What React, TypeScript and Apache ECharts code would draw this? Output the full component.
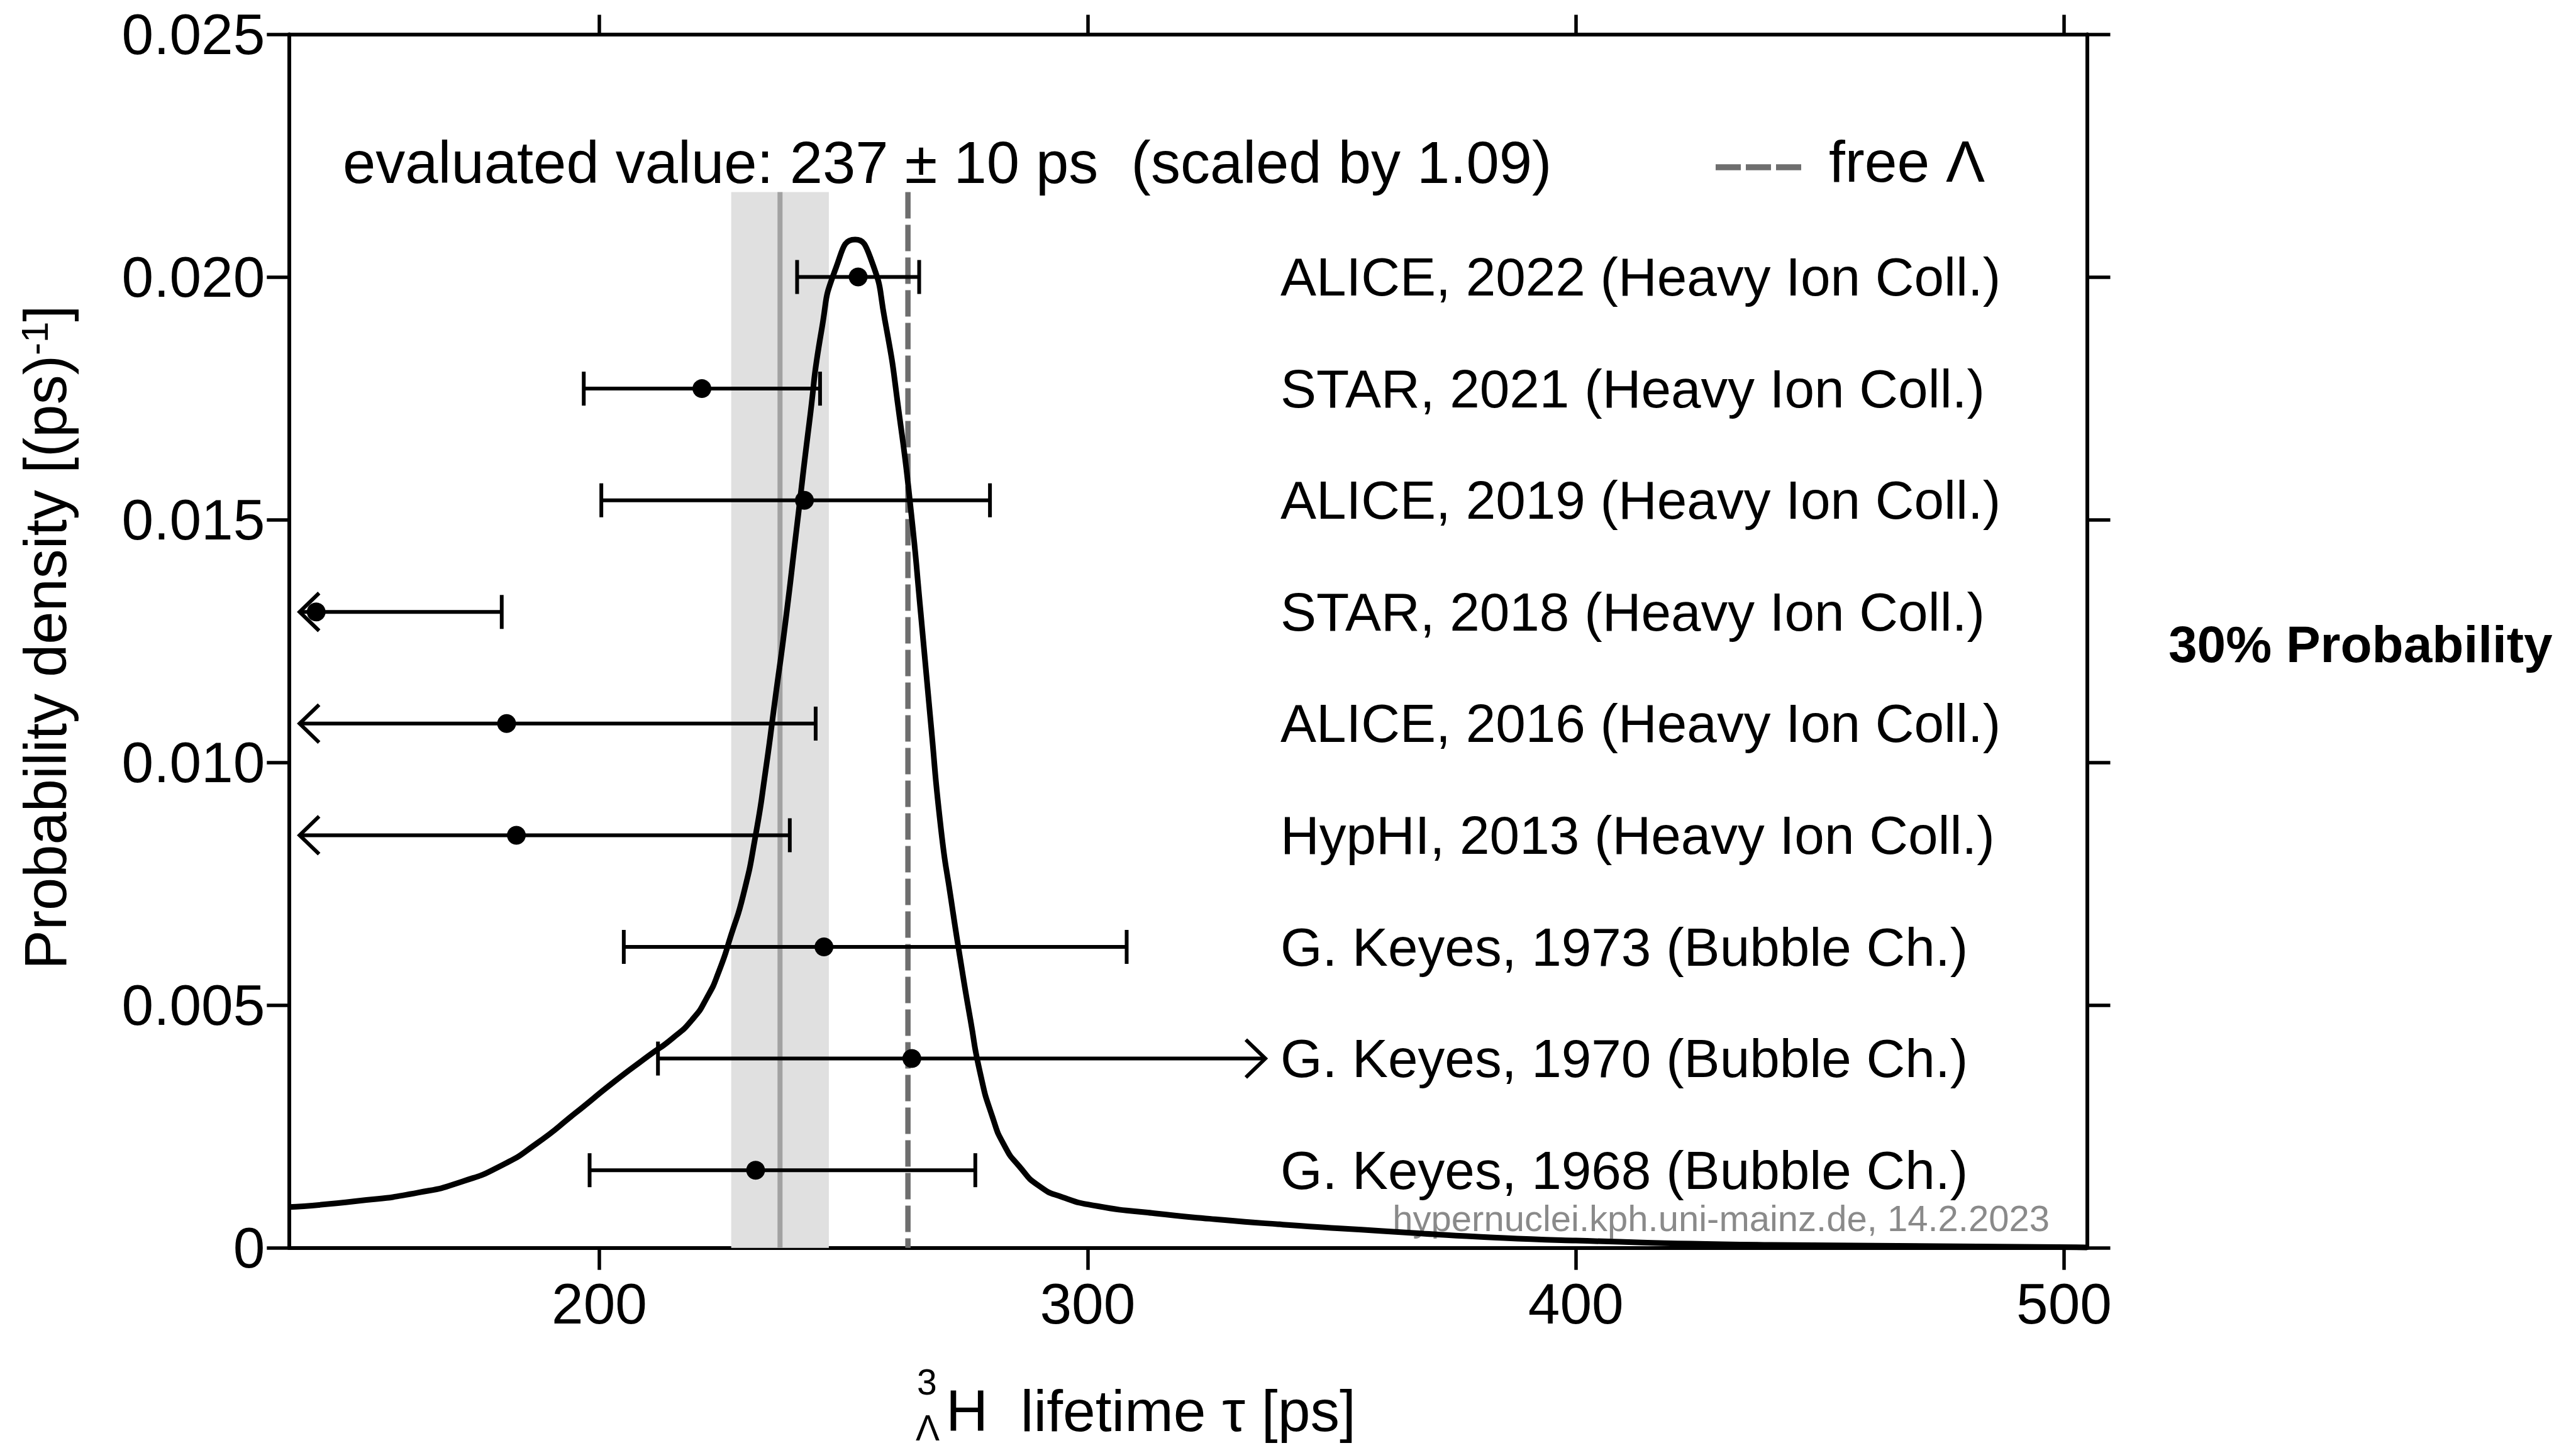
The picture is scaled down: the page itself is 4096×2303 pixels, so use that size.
import React, { useEffect, useRef } from 'react';
import * as echarts from 'echarts';

const FONT = '"Liberation Sans", Arial, Helvetica, sans-serif';

// Axis ranges: hypertriton lifetime [ps] and probability density [1/ps]
const X_MIN = 136.4;
const X_MAX = 504.7;
const X_TICKS = [200, 300, 400, 500];
const Y_MIN = 0;
const Y_MAX = 0.025;
const Y_STEP = 0.005;

// Combined probability density of the world data
const curveTau = [
  136.4, 150, 163, 172, 180, 187, 195, 203, 210, 215, 219, 222, 224.5,
  227, 229.5, 232, 234, 236, 238, 240.5, 243, 245.5, 248.5, 252.4, 255.5,
  258.5, 261.5, 263.8, 265.8, 267.8, 270, 272, 274, 276, 278, 280.5, 283, 286,
  290, 295, 302, 312, 325, 340, 360, 380, 400, 440, 504.7,
];
const curveDensity = [
  0.00084, 0.00096, 0.00114, 0.00137, 0.0017, 0.00214, 0.00277,
  0.00342, 0.00395, 0.00432, 0.0047, 0.00515, 0.0057, 0.00645, 0.00728, 0.0085,
  0.0098, 0.0113, 0.0128, 0.0149, 0.017, 0.0189, 0.0202, 0.02077, 0.0204,
  0.0191, 0.0171, 0.0152, 0.0131, 0.0109, 0.0086, 0.0072, 0.0059, 0.0047,
  0.0036, 0.0027, 0.0021, 0.00168, 0.00128, 0.00104, 0.00086, 0.00073,
  0.0006, 0.00048, 0.00035, 0.00023, 0.00015, 0.00006, 0.00001,
];

// Individual measurements (central value, lower and upper end of the total error)
const experiments = [
  'ALICE, 2022 (Heavy Ion Coll.)',
  'STAR, 2021 (Heavy Ion Coll.)',
  'ALICE, 2019 (Heavy Ion Coll.)',
  'STAR, 2018 (Heavy Ion Coll.)',
  'ALICE, 2016 (Heavy Ion Coll.)',
  'HypHI, 2013 (Heavy Ion Coll.)',
  'G. Keyes, 1973 (Bubble Ch.)',
  'G. Keyes, 1970 (Bubble Ch.)',
  'G. Keyes, 1968 (Bubble Ch.)',
];
const tauCentral = [253, 221, 242, 142, 181, 183, 246, 264, 232];
const tauLower = [240.5, 196.8, 200.4, 104.6, 129.9, 134.2, 205, 212, 198];
const tauUpper = [265.5, 245.2, 280, 180, 244.3, 239, 308, 348, 277];
const rowLevel = [0.02, 0.0177, 0.0154, 0.0131, 0.0108, 0.0085, 0.0062, 0.0039, 0.0016];

// Evaluated average and the free Lambda reference
const evaluatedTau = 237;
const evaluatedErr = 10;
const scaleFactor = 1.09;
const freeLambdaTau = 263.2;
const bandTop = 0.02175;

// Error bars running past these limits end in an arrow; labels start at labelTau
const arrowLeft = 138.6;
const arrowRight = 336.4;
const labelTau = 339.5;

const BLACK = '#000000';

export default function App() {
  const ref = useRef<HTMLDivElement>(null);

  useEffect(() => {
    if (!ref.current) return;
    const chart = echarts.init(ref.current, undefined, { renderer: 'svg' });

    const axisLine = { show: true, onZero: false, lineStyle: { color: BLACK, width: 6 } };
    const tickStyle = { color: BLACK, width: 5.5 };

    const measurementRows = tauCentral.map((c, i) => [c, tauLower[i], tauUpper[i], rowLevel[i]]);

    const option: any = {
      animation: false,
      backgroundColor: '#ffffff',
      textStyle: { fontFamily: FONT },
      grid: { left: 459.3, right: 777.5, top: 54.5, bottom: 318.3, containLabel: false },
      xAxis: [
        {
          type: 'value',
          position: 'bottom',
          min: X_MIN,
          max: X_MAX,
          axisLine,
          axisTick: { show: true, inside: false, length: 35, lineStyle: tickStyle, customValues: X_TICKS },
          axisLabel: {
            show: true,
            customValues: X_TICKS,
            fontSize: 91,
            color: BLACK,
            fontFamily: FONT,
            margin: 43,
          },
          splitLine: { show: false },
        },
        {
          type: 'value',
          position: 'top',
          min: X_MIN,
          max: X_MAX,
          axisLine,
          axisTick: { show: true, inside: false, length: 31, lineStyle: tickStyle, customValues: X_TICKS },
          axisLabel: { show: false },
          splitLine: { show: false },
        },
      ],
      yAxis: [
        {
          type: 'value',
          position: 'left',
          min: Y_MIN,
          max: Y_MAX,
          interval: Y_STEP,
          axisLine,
          axisTick: { show: true, inside: false, length: 35, lineStyle: tickStyle },
          axisLabel: {
            show: true,
            fontSize: 91,
            color: BLACK,
            fontFamily: FONT,
            margin: 38,
            formatter: (v: number) => (v === 0 ? '0' : v.toFixed(3)),
          },
          splitLine: { show: false },
        },
        {
          type: 'value',
          position: 'right',
          min: Y_MIN,
          max: Y_MAX,
          interval: Y_STEP,
          axisLine,
          axisTick: { show: true, inside: false, length: 37, lineStyle: tickStyle },
          axisLabel: { show: false },
          splitLine: { show: false },
        },
      ],
      series: [
        {
          // evaluated value with its uncertainty band
          type: 'custom',
          name: 'evaluated',
          xAxisIndex: 0,
          yAxisIndex: 0,
          z: 1,
          data: [[evaluatedTau, evaluatedErr, bandTop]],
          encode: { x: 0, y: 2 },
          renderItem: (_p: any, api: any) => {
            const c = api.value(0);
            const e = api.value(1);
            const top = api.value(2);
            const a = api.coord([c - e, top]);
            const b = api.coord([c + e, Y_MIN]);
            const m0 = api.coord([c, top]);
            const m1 = api.coord([c, Y_MIN]);
            return {
              type: 'group',
              children: [
                {
                  type: 'rect',
                  shape: { x: a[0], y: a[1], width: b[0] - a[0], height: b[1] - a[1] },
                  style: { fill: '#e0e0e0' },
                },
                {
                  type: 'line',
                  shape: { x1: m0[0], y1: m0[1], x2: m1[0], y2: m1[1] },
                  style: { stroke: '#a2a2a2', lineWidth: 8 },
                },
              ],
            };
          },
        },
        {
          // free Lambda lifetime
          type: 'custom',
          name: 'free Lambda',
          xAxisIndex: 0,
          yAxisIndex: 0,
          z: 2,
          data: [[freeLambdaTau, bandTop]],
          encode: { x: 0, y: 1 },
          renderItem: (_p: any, api: any) => {
            const p0 = api.coord([api.value(0), api.value(1)]);
            const p1 = api.coord([api.value(0), Y_MIN]);
            return {
              type: 'line',
              shape: { x1: p0[0], y1: p0[1], x2: p1[0], y2: p1[1] },
              style: { stroke: '#6e6e6e', lineWidth: 8.5, lineDash: [42, 10] },
            };
          },
        },
        {
          type: 'line',
          name: 'density',
          xAxisIndex: 0,
          yAxisIndex: 0,
          z: 3,
          data: curveTau.map((t, i) => [t, curveDensity[i]]),
          showSymbol: false,
          symbol: 'none',
          smooth: 0.6,
          clip: true,
          lineStyle: { color: BLACK, width: 9, join: 'round' },
        },
        {
          type: 'custom',
          name: 'measurements',
          xAxisIndex: 0,
          yAxisIndex: 0,
          z: 4,
          data: measurementRows,
          encode: { x: [0, 1, 2], y: 3 },
          renderItem: (params: any, api: any) => {
            const c = api.value(0);
            const lo = api.value(1);
            const hi = api.value(2);
            const lvl = api.value(3);
            const left = Math.max(lo, arrowLeft);
            const right = Math.min(hi, arrowRight);
            const pL = api.coord([left, lvl]);
            const pR = api.coord([right, lvl]);
            const pC = api.coord([c, lvl]);
            const pT = api.coord([labelTau, lvl]);
            const y = pC[1];
            const stroke = { stroke: BLACK, lineWidth: 6, fill: null };
            const children: any[] = [
              { type: 'line', shape: { x1: pL[0], y1: y, x2: pR[0], y2: y }, style: stroke },
            ];
            if (lo < arrowLeft) {
              children.push({
                type: 'polyline',
                shape: { points: [[pL[0] + 31, y - 30], [pL[0], y], [pL[0] + 31, y + 30]] },
                style: stroke,
              });
            } else {
              children.push({ type: 'line', shape: { x1: pL[0], y1: y - 27, x2: pL[0], y2: y + 27 }, style: stroke });
            }
            if (hi > arrowRight) {
              children.push({
                type: 'polyline',
                shape: { points: [[pR[0] - 31, y - 30], [pR[0], y], [pR[0] - 31, y + 30]] },
                style: stroke,
              });
            } else {
              children.push({ type: 'line', shape: { x1: pR[0], y1: y - 27, x2: pR[0], y2: y + 27 }, style: stroke });
            }
            children.push({ type: 'circle', shape: { cx: pC[0], cy: y, r: 15 }, style: { fill: BLACK } });
            children.push({
              type: 'text',
              x: pT[0],
              y: pT[1],
              style: {
                text: experiments[params.dataIndex],
                fontSize: 85.5,
                fontFamily: FONT,
                fill: BLACK,
                align: 'left',
                verticalAlign: 'middle',
              },
            });
            return { type: 'group', children };
          },
        },
      ],
      graphic: [
        {
          type: 'text',
          x: 545,
          y: 258,
          style: {
            text: `evaluated value: ${evaluatedTau} ± ${evaluatedErr} ps  (scaled by ${scaleFactor.toFixed(2)})`,
            fontSize: 94,
            fontFamily: FONT,
            fill: BLACK,
            align: 'left',
            verticalAlign: 'middle',
          },
        },
        {
          type: 'line',
          shape: { x1: 2728, y1: 266, x2: 2864, y2: 266 },
          style: { stroke: '#6e6e6e', lineWidth: 9.5, lineDash: [40, 8] },
        },
        {
          type: 'text',
          x: 2908,
          y: 257,
          style: {
            text: 'free Λ',
            fontSize: 93,
            fontFamily: FONT,
            fill: BLACK,
            align: 'left',
            verticalAlign: 'middle',
          },
        },
        {
          type: 'text',
          x: 3448,
          y: 1024,
          style: {
            text: '30% Probability',
            fontSize: 82,
            fontWeight: 'bold',
            fontFamily: FONT,
            fill: BLACK,
            align: 'left',
            verticalAlign: 'middle',
          },
        },
        {
          type: 'text',
          x: 3259,
          y: 1937,
          style: {
            text: 'hypernuclei.kph.uni-mainz.de, 14.2.2023',
            fontSize: 58,
            fontFamily: FONT,
            fill: '#8a8a8a',
            align: 'right',
            verticalAlign: 'middle',
          },
        },
        {
          type: 'text',
          x: 72,
          y: 1542,
          rotation: Math.PI / 2,
          style: {
            text: '{m|Probability density [(ps)}{s|-1}{m|]}',
            fontFamily: FONT,
            fill: BLACK,
            align: 'left',
            verticalAlign: 'middle',
            rich: {
              m: { fontSize: 94, lineHeight: 94, fontFamily: FONT, fill: BLACK },
              s: { fontSize: 60, lineHeight: 60, fontFamily: FONT, fill: BLACK, verticalAlign: 'top' },
            },
          },
        },
        {
          type: 'text',
          x: 1458,
          y: 2226,
          style: { text: '3', fontSize: 57, fontFamily: FONT, fill: BLACK, align: 'left', verticalAlign: 'bottom' },
        },
        {
          type: 'text',
          x: 1456,
          y: 2299,
          style: { text: 'Λ', fontSize: 57, fontFamily: FONT, fill: BLACK, align: 'left', verticalAlign: 'bottom' },
        },
        {
          type: 'text',
          x: 1504,
          y: 2244,
          style: {
            text: 'H  lifetime τ [ps]',
            fontSize: 93,
            fontFamily: FONT,
            fill: BLACK,
            align: 'left',
            verticalAlign: 'middle',
          },
        },
      ],
    };

    chart.setOption(option);
    return () => chart.dispose();
  }, []);

  return (
    <div
      ref={ref}
      style={{ position: 'absolute', left: 0, top: 0, width: 4096, height: 2303, background: '#ffffff' }}
    />
  );
}
